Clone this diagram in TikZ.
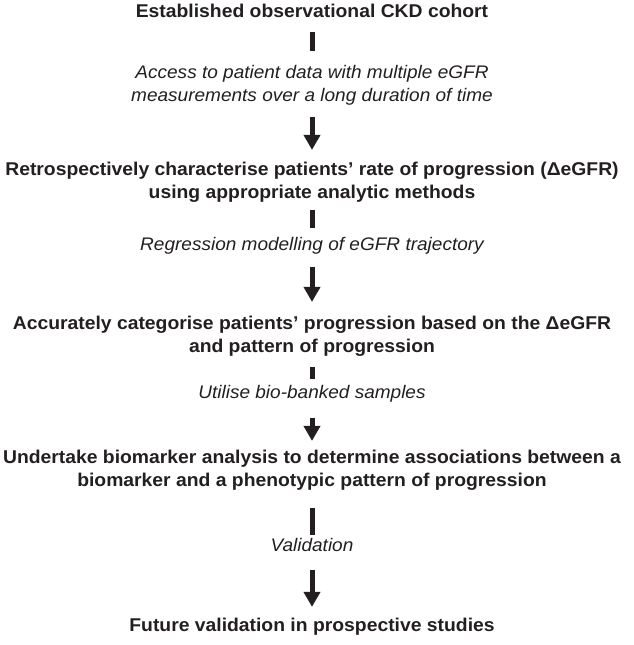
\documentclass[tikz,border=0pt]{standalone}
\usepackage{fontspec}
\setmainfont[FakeStretch=1.045]{Liberation Sans}
\usetikzlibrary{arrows.meta,positioning}
\definecolor{ink}{HTML}{231F20}
\tikzset{
    stage/.style={font=\bfseries\fontsize{18.5}{23}\selectfont, align=center, text=ink, inner sep=0pt, anchor=base},
    note/.style={font=\itshape\fontsize{18.2}{23}\selectfont, align=center, text=ink, inner sep=0pt, anchor=base},
    bar/.style={draw=ink, line width=5pt},
    flow/.style={draw=ink, line width=5pt, -{Triangle[width=16pt,length=15pt]}}
}
\begin{document}
\begin{tikzpicture}[x=1pt,y=-1pt]
            \useasboundingbox (0,0) rectangle (633,645);
            % base anchor = baseline of the last line
            \node[stage] (t1) at (312,17)  {Established observational CKD cohort};
            \node[note]  (n1) at (312,101) {Access to patient data with multiple eGFR\\measurements over a long duration of time};
            \node[stage] (t2) at (312,198) {Retrospectively characterise patients’ rate of progression (ΔeGFR)\\using appropriate analytic methods};
            \node[note]  (n2) at (312,250) {Regression modelling of eGFR trajectory};
            \node[stage] (t3) at (312,352) {Accurately categorise patients’ progression based on the ΔeGFR\\and pattern of progression};
            \node[note]  (n3) at (312,398) {Utilise bio-banked samples};
            \node[stage] (t4) at (312,486) {Undertake biomarker analysis to determine associations between a\\biomarker and a phenotypic pattern of progression};
            \node[note]  (n4) at (312,551) {Validation};
            \node[stage] (t5) at (312,631) {Future validation in prospective studies};
            \foreach \a/\b/\s/\e/\kind in {t1/n1/15/13.9/bar, n1/t2/12.2/11.5/flow,
                t2/n2/8/9/bar, n2/t3/13/13.5/flow, t3/n3/11/6/bar, n3/t4/16/8.5/flow,
                t4/n4/18/3/bar, n4/t5/19/10.5/flow} {
                \draw[\kind, shorten <=\s pt, shorten >=\e pt] (\a.south) -- (\b.north);
            }
        \end{tikzpicture}
\end{document}
